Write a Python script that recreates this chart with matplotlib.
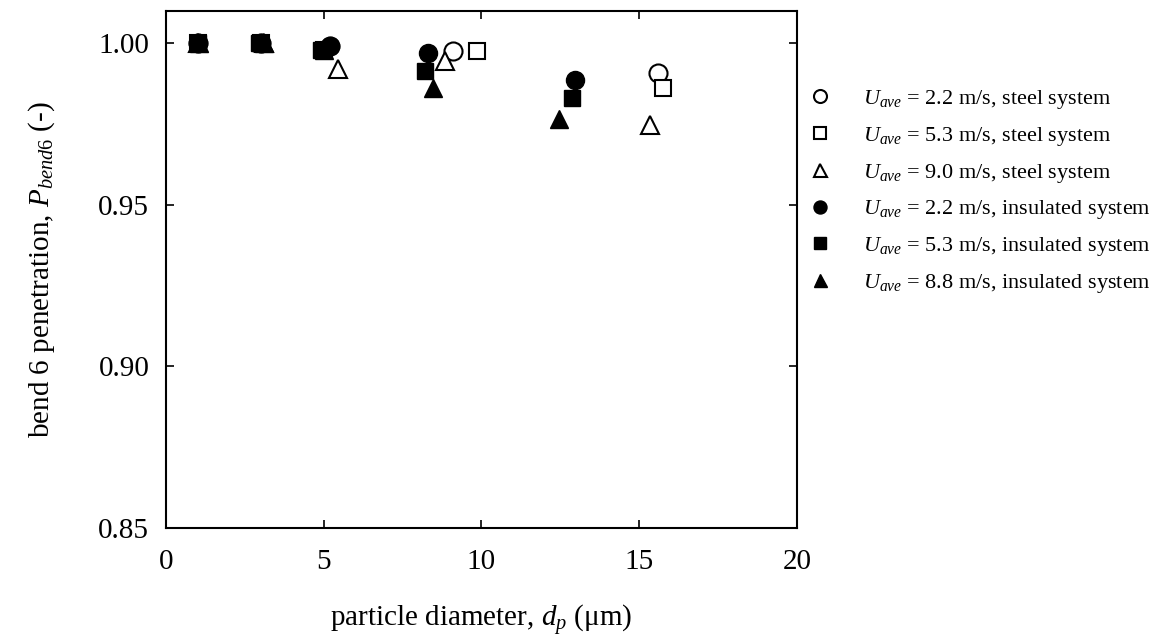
import matplotlib
matplotlib.use('Agg')
import matplotlib.pyplot as plt

plt.rcParams['font.family'] = ['Liberation Serif', 'DejaVu Serif']
plt.rcParams['mathtext.fontset'] = 'custom'
plt.rcParams['mathtext.rm'] = 'Liberation Serif'
plt.rcParams['mathtext.it'] = 'Liberation Serif:italic'

# data
labels = [r'$U_{ave}$ = 2.2 m/s, steel system',
          r'$U_{ave}$ = 5.3 m/s, steel system',
          r'$U_{ave}$ = 9.0 m/s, steel system',
          r'$U_{ave}$ = 2.2 m/s, insulated system',
          r'$U_{ave}$ = 5.3 m/s, insulated system',
          r'$U_{ave}$ = 8.8 m/s, insulated system']

x_steel_22 = [1.0, 3.0, 5.2, 9.1, 15.6]
y_steel_22 = [1.0, 1.0, 0.999, 0.9975, 0.9907]
x_steel_53 = [1.0, 3.0, 5.0, 9.85, 15.75]
y_steel_53 = [1.0, 1.0, 0.998, 0.9975, 0.9863]
x_steel_90 = [1.0, 3.1, 5.45, 8.85, 15.33]
y_steel_90 = [1.0, 1.0, 0.992, 0.9944, 0.9748]
x_ins_22 = [1.0, 3.0, 5.2, 8.3, 12.98]
y_ins_22 = [1.0, 1.0, 0.9992, 0.9969, 0.9885]
x_ins_53 = [1.0, 2.95, 4.9, 8.2, 12.86]
y_ins_53 = [1.0, 1.0, 0.9978, 0.9913, 0.9832]
x_ins_88 = [1.05, 3.1, 5.0, 8.45, 12.45]
y_ins_88 = [1.0, 1.0, 0.998, 0.986, 0.9767]

fig = plt.figure(figsize=(11.72, 6.42), dpi=100)
ax = fig.add_axes([0.1416, 0.1776, 0.5384, 0.8054])

ms = 13
ax.plot(x_steel_22, y_steel_22, 'o', ms=ms, mfc='white', mec='black', mew=1.5, ls='none', label=labels[0])
ax.plot(x_steel_53, y_steel_53, 's', ms=ms - 1, mfc='white', mec='black', mew=1.5, ls='none', label=labels[1])
ax.plot(x_steel_90, y_steel_90, '^', ms=ms, mfc='white', mec='black', mew=1.5, ls='none', label=labels[2])
ax.plot(x_ins_22, y_ins_22, 'o', ms=ms, color='black', ls='none', label=labels[3])
ax.plot(x_ins_53, y_ins_53, 's', ms=ms - 1, color='black', ls='none', label=labels[4])
ax.plot(x_ins_88, y_ins_88, '^', ms=ms, color='black', ls='none', label=labels[5])

ax.set_xlim(0, 20)
ax.set_ylim(0.85, 1.01)
ax.set_xticks([0, 5, 10, 15, 20])
ax.set_yticks([0.85, 0.90, 0.95, 1.00])
ax.set_yticklabels(['0.85', '0.90', '0.95', '1.00'])
ax.tick_params(direction='in', top=True, right=True, length=6, width=1.2, labelsize=21)
ax.tick_params(axis='x', pad=15)
ax.tick_params(axis='y', pad=12)
for s in ax.spines.values():
    s.set_linewidth(1.5)

ax.set_xlabel('particle diameter, $d_p$ (μm)', fontsize=21, labelpad=20)
ax.set_ylabel(r'bend 6 penetration, $P_{bend6}$ (-)', fontsize=21, labelpad=30)

ax.legend(loc='upper left', bbox_to_anchor=(0.690, 0.863), bbox_transform=fig.transFigure,
          frameon=False, fontsize=16, handlelength=1.0, handletextpad=1.45,
          labelspacing=0.62, borderpad=0, borderaxespad=0, markerscale=0.72)

fig.savefig('out.png', dpi=100)
